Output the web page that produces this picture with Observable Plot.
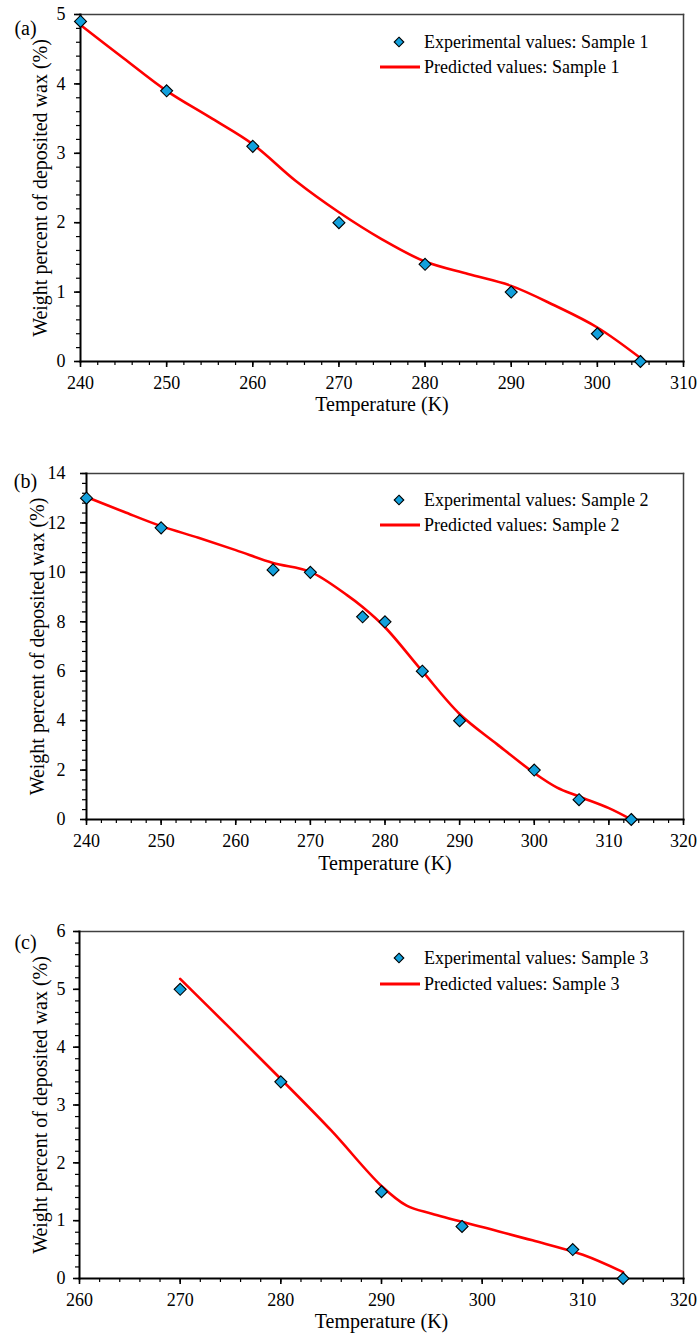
<!DOCTYPE html>
<html>
<head>
<meta charset="utf-8">
<script src="https://cdn.jsdelivr.net/npm/d3@7"></script>
<script src="https://cdn.jsdelivr.net/npm/@observablehq/plot@0.6"></script>
<style>
  html, body { margin: 0; padding: 0; background: #fff; }
  #root { width: 699px; position: relative; }
  .panel { position: relative; width: 699px; }
  .panel svg.legend { position: absolute; left: 0; top: 0; pointer-events: none; }
  .panel svg text { font-family: "Liberation Serif", "Times New Roman", Times, serif; }
</style>
</head>
<body>
<div id="root"></div>
<script>
// ---------- data ----------
// Panel (a) Sample 1
const expA_T = [240, 250, 260, 270, 280, 290, 300, 305];
const expA_W = [4.9, 3.9, 3.1, 2.0, 1.4, 1.0, 0.4, 0.0];
const predA_T = [240, 245, 250, 255, 260, 265, 270, 275, 280, 285, 290, 295, 300, 305];
const predA_W = [4.85, 4.37, 3.90, 3.52, 3.13, 2.60, 2.15, 1.76, 1.44, 1.26, 1.09, 0.81, 0.49, 0.05];

// Panel (b) Sample 2
const expB_T = [240, 250, 265, 270, 277, 280, 285, 290, 300, 306, 313];
const expB_W = [13.0, 11.8, 10.1, 10.0, 8.2, 8.0, 6.0, 4.0, 2.0, 0.8, 0.0];
const predB_T = [240, 245, 250, 255, 260, 265, 270, 275, 277, 280, 285, 290, 295, 300, 303, 306, 310, 313];
const predB_W = [13.05, 12.45, 11.87, 11.4, 10.9, 10.38, 10.02, 9.06, 8.6, 7.78, 6.0, 4.27, 3.05, 1.88, 1.3, 0.93, 0.46, 0.0];

// Panel (c) Sample 3
const expC_T = [270, 280, 290, 298, 309, 314];
const expC_W = [5.0, 3.4, 1.5, 0.9, 0.5, 0.0];
const predC_T = [270, 275, 280, 285, 290, 292.5, 295, 300, 305, 310, 314];
const predC_W = [5.18, 4.32, 3.45, 2.56, 1.6, 1.26, 1.12, 0.89, 0.66, 0.41, 0.11];

// tick labels
const xTicksA = [240, 250, 260, 270, 280, 290, 300, 310];
const yTicksA = [0, 1, 2, 3, 4, 5];
const xTicksB = [240, 250, 260, 270, 280, 290, 300, 310, 320];
const yTicksB = [0, 2, 4, 6, 8, 10, 12, 14];
const xTicksC = [260, 270, 280, 290, 300, 310, 320];
const yTicksC = [0, 1, 2, 3, 4, 5, 6];

const panelLabels = ["(a)", "(b)", "(c)"];
const samples = ["Sample 1", "Sample 2", "Sample 3"];
const xTitle = "Temperature (K)";
const yTitle = "Weight percent of deposited wax (%)";

// ---------- drawing ----------
const FONT = '"Liberation Serif", "Times New Roman", Times, serif';
const BLUE = "#12a0dc";
const RED = "#ff0000";

function zip(xs, ys) { return xs.map((x, i) => ({T: x, W: ys[i]})); }

function makePanel(cfg) {
  const exp = zip(cfg.expT, cfg.expW);
  const pred = zip(cfg.predT, cfg.predW);
  const xMinor = d3.range(cfg.xTicks[0], cfg.xTicks[cfg.xTicks.length - 1] + 1e-9, cfg.xMinorStep);
  const yMinor = d3.range(cfg.yTicks[0], cfg.yTicks[cfg.yTicks.length - 1] + 1e-9, cfg.yMinorStep);
  const xDomain = [cfg.xTicks[0], cfg.xTicks[cfg.xTicks.length - 1]];
  const yDomain = [cfg.yTicks[0], cfg.yTicks[cfg.yTicks.length - 1]];

  const chart = Plot.plot({
    width: 699,
    height: cfg.height,
    marginLeft: cfg.ml,
    marginRight: 16,
    marginTop: cfg.mt,
    marginBottom: cfg.mb,
    x: {domain: xDomain},
    y: {domain: yDomain},
    style: {fontFamily: FONT, fontSize: "18px", color: "#000", background: "#fff", overflow: "visible"},
    marks: [
      Plot.frame({anchor: "top", stroke: "#404040", strokeWidth: 1.5}),
      Plot.frame({anchor: "right", stroke: "#404040", strokeWidth: 1.5}),
      Plot.axisX(xMinor, {tickSize: 4, text: null, label: null, strokeWidth: 1.2, stroke: "#000"}),
      Plot.axisX(cfg.xTicks, {tickSize: 6, tickPadding: 9, label: null, tickFormat: d => String(d), strokeWidth: 1.6, stroke: "#000", fill: "#000", fontSize: 18, fontFamily: FONT}),
      Plot.axisY(yMinor, {tickSize: 4, text: null, label: null, strokeWidth: 1.2, stroke: "#000"}),
      Plot.axisY(cfg.yTicks, {tickSize: 6, tickPadding: cfg.yPad, label: null, tickFormat: d => String(d), strokeWidth: 1.6, stroke: "#000", fill: "#000", fontSize: 18, fontFamily: FONT}),
      Plot.frame({anchor: "left", stroke: "#000", strokeWidth: 2}),
      Plot.frame({anchor: "bottom", stroke: "#000", strokeWidth: 2}),
      Plot.line(pred, {x: "T", y: "W", stroke: RED, strokeWidth: 2.6, curve: "catmull-rom"}),
      Plot.dot(exp, {x: "T", y: "W", symbol: "diamond2", r: 5.4, fill: BLUE, stroke: "#000", strokeWidth: 1.1}),
      Plot.text([cfg.label], {frameAnchor: "top-left", textAnchor: "middle", dx: cfg.labelDx, dy: cfg.labelDy, fontSize: 20, fill: "#000", fontFamily: FONT}),
      Plot.text([xTitle], {frameAnchor: "bottom", textAnchor: "middle", dy: cfg.xTitleDy, fontSize: 20, fill: "#000", fontFamily: FONT}),
      Plot.text([yTitle], {frameAnchor: "left", textAnchor: "middle", dx: cfg.yTitleDx, rotate: -90, fontSize: 20, fill: "#000", fontFamily: FONT})
    ]
  });

  const div = document.createElement("div");
  div.className = "panel";
  div.style.height = cfg.height + "px";
  div.appendChild(chart);

  // legend overlay (inside plot area, upper right)
  const leg = d3.create("svg")
    .attr("class", "legend")
    .attr("width", 699)
    .attr("height", cfg.height);
  const g = leg.append("g").attr("font-family", FONT).attr("font-size", 18).attr("fill", "#000");
  const d = 4.8;
  g.append("path")
    .attr("d", `M399,${cfg.legY1 - d}L${399 + d},${cfg.legY1}L399,${cfg.legY1 + d}L${399 - d},${cfg.legY1}Z`)
    .attr("fill", BLUE).attr("stroke", "#000").attr("stroke-width", 1.1);
  g.append("text").attr("x", 424).attr("y", cfg.legY1 + 6).text("Experimental values: " + cfg.sample);
  g.append("line").attr("x1", 380).attr("x2", 420).attr("y1", cfg.legY2).attr("y2", cfg.legY2)
    .attr("stroke", RED).attr("stroke-width", 3);
  g.append("text").attr("x", 424).attr("y", cfg.legY2 + 6).text("Predicted values: " + cfg.sample);
  div.appendChild(leg.node());
  return div;
}

const root = document.getElementById("root");
root.appendChild(makePanel({
  label: panelLabels[0], sample: samples[0],
  expT: expA_T, expW: expA_W, predT: predA_T, predW: predA_W,
  xTicks: xTicksA, yTicks: yTicksA, xMinorStep: 2, yMinorStep: 0.2,
  height: 440, ml: 80, mt: 14, mb: 79, yPad: 9,
  labelDx: -55, labelDy: 6, xTitleDy: 49, yTitleDx: -40,
  legY1: 42, legY2: 67
}));
root.appendChild(makePanel({
  label: panelLabels[1], sample: samples[1],
  expT: expB_T, expW: expB_W, predT: predB_T, predW: predB_W,
  xTicks: xTicksB, yTicks: yTicksB, xMinorStep: 2, yMinorStep: 0.4,
  height: 450, ml: 86, mt: 33, mb: 71, yPad: 15,
  labelDx: -61, labelDy: 0, xTitleDy: 50, yTitleDx: -49,
  legY1: 60, legY2: 85
}));
root.appendChild(makePanel({
  label: panelLabels[2], sample: samples[2],
  expT: expC_T, expW: expC_W, predT: predC_T, predW: predC_W,
  xTicks: xTicksC, yTicks: yTicksC, xMinorStep: 2, yMinorStep: 0.2,
  height: 451, ml: 79, mt: 41, mb: 63, yPad: 8,
  labelDx: -54, labelDy: 3, xTitleDy: 49, yTitleDx: -39,
  legY1: 68, legY2: 94
}));
</script>
</body>
</html>
